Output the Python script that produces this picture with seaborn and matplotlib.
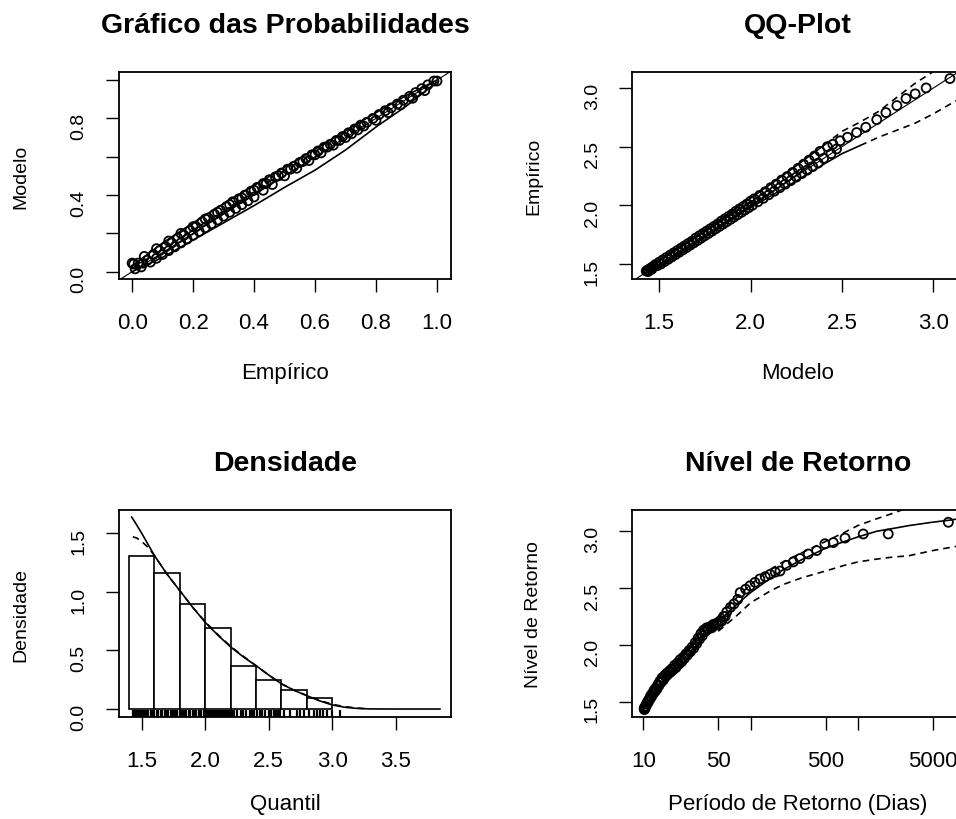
import matplotlib
matplotlib.use("Agg")
import matplotlib.pyplot as plt
import seaborn as sns

# ---------------- data: probability plot (Empírico vs Modelo) ----------------
pp_emp = [0.005, 0.02, 0.035, 0.05, 0.07, 0.09, 0.11, 0.13, 0.15, 0.17, 0.19, 0.21, 0.23,
          0.25, 0.27, 0.29, 0.31, 0.33, 0.35, 0.37, 0.39, 0.41, 0.43, 0.45, 0.47, 0.49,
          0.51, 0.53, 0.55, 0.57, 0.59, 0.61, 0.63, 0.65, 0.67, 0.69, 0.71, 0.73, 0.75,
          0.77, 0.79, 0.81, 0.83, 0.85, 0.87, 0.89, 0.91, 0.93, 0.95, 0.97, 0.99,
          0.01, 0.03, 0.06, 0.08, 0.10, 0.12, 0.14, 0.16, 0.18, 0.20, 0.22, 0.24, 0.26,
          0.28, 0.30, 0.32, 0.34, 0.36, 0.38, 0.40, 0.43, 0.46, 0.50, 0.54, 0.58, 0.62,
          0.66, 0.70, 0.74,
          0.0, 0.04, 0.08, 0.12, 0.16, 0.20, 0.24, 0.28, 0.32, 0.36, 0.40, 0.44, 0.48,
          0.52, 0.56, 0.60, 0.64, 0.68, 0.72, 0.76, 0.80, 0.84, 0.88, 0.92, 0.96, 1.0]
pp_mod = [0.040, 0.045, 0.045, 0.060, 0.090, 0.110, 0.130, 0.150, 0.175, 0.190, 0.215, 0.235,
          0.260, 0.280, 0.300, 0.320, 0.340, 0.365, 0.380, 0.400, 0.420, 0.440, 0.460, 0.480,
          0.495, 0.515, 0.535, 0.550, 0.570, 0.590, 0.610, 0.630, 0.650, 0.665, 0.685, 0.705,
          0.725, 0.745, 0.765, 0.780, 0.800, 0.820, 0.840, 0.855, 0.875, 0.895, 0.915, 0.935,
          0.955, 0.975, 0.995,
          0.015, 0.025, 0.050, 0.070, 0.090, 0.110, 0.130, 0.150, 0.170, 0.190, 0.210, 0.230,
          0.250, 0.270, 0.290, 0.310, 0.330, 0.350, 0.370, 0.390, 0.425, 0.455, 0.500, 0.540,
          0.580, 0.620, 0.660, 0.700, 0.740,
          0.045, 0.080, 0.120, 0.160, 0.200, 0.235, 0.275, 0.310, 0.350, 0.385, 0.425, 0.460,
          0.500, 0.535, 0.575, 0.610, 0.650, 0.685, 0.720, 0.760, 0.790, 0.830, 0.870, 0.905,
          0.945, 0.995]
pp_band_x = [0.0, 0.1, 0.2, 0.3, 0.4, 0.5, 0.6, 0.7, 0.8, 0.9, 1.0]
pp_band_lo = [0.0, 0.075, 0.165, 0.255, 0.345, 0.44, 0.53, 0.635, 0.755, 0.865, 0.99]
pp_band_hi = [0.03, 0.15, 0.255, 0.355, 0.45, 0.545, 0.64, 0.735, 0.83, 0.92, 1.0]

# ---------------- data: QQ-plot (Modelo vs Empírico) ----------------
qq_mod = [1.43, 1.435, 1.44, 1.45, 1.46, 1.47, 1.48, 1.50, 1.52, 1.54, 1.56, 1.58, 1.60, 1.62,
          1.64, 1.66, 1.68, 1.70, 1.72, 1.74, 1.76, 1.78, 1.80, 1.82, 1.84, 1.86, 1.88, 1.90,
          1.92, 1.94, 1.96, 1.98, 2.00, 2.02, 2.05, 2.08, 2.11, 2.14, 2.17, 2.20, 2.23, 2.26,
          2.29, 2.32, 2.35, 2.38, 2.42, 2.45, 2.49, 2.53, 2.58, 2.63, 2.69, 2.74, 2.80, 2.85,
          2.90, 2.96, 3.09,
          1.44, 1.46, 1.49, 1.51, 1.53, 1.55, 1.57, 1.59, 1.61, 1.63, 1.65, 1.67, 1.69, 1.71,
          1.73, 1.75, 1.77, 1.79, 1.81, 1.83, 1.85, 1.87, 1.89, 1.91, 1.93, 1.95, 1.97, 1.99,
          2.01, 2.04, 2.07, 2.10, 2.13, 2.16, 2.19, 2.22, 2.25, 2.28, 2.31, 2.34, 2.37, 2.40,
          2.44, 2.47]
qq_emp = [1.44, 1.445, 1.45, 1.46, 1.47, 1.48, 1.495, 1.515, 1.535, 1.555, 1.575, 1.595, 1.615,
          1.635, 1.655, 1.675, 1.695, 1.72, 1.74, 1.76, 1.78, 1.80, 1.82, 1.84, 1.865, 1.885,
          1.905, 1.925, 1.95, 1.97, 1.99, 2.01, 2.035, 2.055, 2.085, 2.115, 2.15, 2.18, 2.215,
          2.245, 2.28, 2.315, 2.35, 2.385, 2.42, 2.46, 2.50, 2.52, 2.55, 2.58, 2.62, 2.665,
          2.73, 2.79, 2.85, 2.91, 2.95, 3.00, 3.08,
          1.435, 1.455, 1.485, 1.50, 1.52, 1.54, 1.56, 1.58, 1.60, 1.62, 1.64, 1.66, 1.68,
          1.70, 1.72, 1.74, 1.76, 1.78, 1.80, 1.82, 1.84, 1.86, 1.88, 1.90, 1.92, 1.94, 1.96,
          1.98, 2.00, 2.03, 2.06, 2.09, 2.12, 2.15, 2.18, 2.21, 2.24, 2.27, 2.30, 2.33, 2.36,
          2.40, 2.44, 2.48]
qq_band_x = [1.43, 1.6, 1.8, 2.0, 2.2, 2.4, 2.5, 2.6, 2.7, 2.8, 2.9, 3.0, 3.1, 3.17]
qq_band_lo = [1.43, 1.59, 1.78, 1.98, 2.16, 2.35, 2.44, 2.51, 2.58, 2.64, 2.70, 2.78, 2.87, 2.93]
qq_band_hi = [1.45, 1.63, 1.84, 2.06, 2.28, 2.51, 2.63, 2.71, 2.80, 2.92, 3.04, 3.14, 3.22, 3.27]

# ---------------- data: density histogram ----------------
hist_edges = [1.4, 1.6, 1.8, 2.0, 2.2, 2.4, 2.6, 2.8, 3.0]
hist_heights = [1.31, 1.165, 0.90, 0.69, 0.37, 0.25, 0.16, 0.09]
dens_x = [1.42, 1.45, 1.5, 1.6, 1.7, 1.8, 1.9, 2.0, 2.1, 2.2, 2.3, 2.4, 2.5, 2.6, 2.7, 2.8,
          2.9, 3.0, 3.1, 3.2, 3.3, 3.5, 3.85]
dens_model = [1.64, 1.59, 1.50, 1.31, 1.15, 1.01, 0.87, 0.74, 0.63, 0.53, 0.445, 0.37, 0.29,
              0.215, 0.16, 0.114, 0.07, 0.035, 0.015, 0.005, 0.001, 0.0, 0.0]
kde_x = [1.43, 1.46, 1.50, 1.55, 1.60, 1.70, 1.80, 1.90, 2.00, 2.10, 2.20, 2.30, 2.40, 2.50,
         2.60, 2.70, 2.80, 2.90, 3.00, 3.10, 3.20, 3.25]
kde_y = [1.47, 1.46, 1.43, 1.38, 1.31, 1.15, 1.01, 0.87, 0.745, 0.635, 0.535, 0.45, 0.37,
         0.29, 0.215, 0.16, 0.115, 0.075, 0.04, 0.02, 0.008, 0.004]
rug_vals = [1.43, 1.44, 1.45, 1.46, 1.47, 1.49, 1.50, 1.52, 1.53, 1.55, 1.57, 1.58, 1.60,
            1.62, 1.63, 1.65, 1.66, 1.68, 1.70, 1.71, 1.73, 1.75, 1.76, 1.78, 1.80, 1.82,
            1.83, 1.85, 1.87, 1.88, 1.90, 1.92, 1.93, 1.95, 1.97, 1.99, 2.00, 2.01, 2.02,
            2.03, 2.04, 2.05, 2.06, 2.07, 2.08, 2.09, 2.10, 2.11, 2.12, 2.13, 2.14, 2.15,
            2.16, 2.17, 2.18, 2.19, 2.20, 2.21, 2.23, 2.25, 2.28, 2.30, 2.32, 2.35, 2.37,
            2.38, 2.41, 2.43, 2.45, 2.47, 2.50, 2.52, 2.54, 2.56, 2.57, 2.59, 2.62, 2.67,
            2.72, 2.75, 2.78, 2.82, 2.86, 2.88, 2.90, 2.93, 2.96, 3.00, 3.06]

# ---------------- data: return level plot ----------------
rl_per = [10.2, 10.3, 10.5, 10.7, 11.0, 11.3, 11.7, 12.1, 12.6, 13.1, 13.7, 14.3, 15.0, 15.8,
          16.6, 17.5, 18.5, 19.6, 20.8, 22.1, 23.5, 25.0, 26.7, 28.5, 30.5, 32.5, 34.5, 36.5,
          39, 42, 45, 48, 52, 56, 60, 65, 70, 76, 80, 90, 99, 110, 122, 137, 152, 170, 188,
          217, 250, 289, 345, 413, 493, 590, 759, 1122, 1919, 6970,
          10.25, 10.4, 10.6, 10.9, 11.2, 11.5, 11.9, 12.4, 12.9, 13.4, 14.0, 14.7, 15.4,
          16.2, 17.0, 18.0, 19.0, 20.2, 21.5, 22.8, 24.2, 25.8, 27.6, 29.5, 31.5, 33.5,
          35.5, 38, 40.5, 43.5, 46.5, 50, 54, 58]
rl_lev = [1.44, 1.45, 1.46, 1.48, 1.50, 1.52, 1.55, 1.57, 1.60, 1.62, 1.65, 1.68, 1.71, 1.73,
          1.75, 1.77, 1.79, 1.82, 1.84, 1.87, 1.89, 1.92, 1.95, 1.98, 2.02, 2.06, 2.10, 2.13,
          2.15, 2.16, 2.18, 2.19, 2.21, 2.25, 2.29, 2.33, 2.36, 2.40, 2.46, 2.49, 2.52, 2.55,
          2.58, 2.60, 2.62, 2.64, 2.65, 2.70, 2.73, 2.76, 2.80, 2.83, 2.89, 2.90, 2.94, 2.976,
          2.976, 3.079,
          1.43, 1.44, 1.46, 1.48, 1.50, 1.52, 1.54, 1.57, 1.59, 1.61, 1.64, 1.67, 1.69, 1.72,
          1.74, 1.76, 1.78, 1.80, 1.83, 1.85, 1.88, 1.91, 1.94, 1.97, 2.01, 2.05, 2.08, 2.12,
          2.14, 2.15, 2.17, 2.18, 2.21, 2.25]
rl_curve_x = [10, 15, 20, 30, 50, 75, 100, 150, 200, 300, 500, 750, 1000, 1500, 2000, 3000,
              5000, 7500, 10000]
rl_est = [1.44, 1.66, 1.80, 1.98, 2.20, 2.36, 2.46, 2.58, 2.66, 2.75, 2.85, 2.91, 2.95, 3.00,
          3.02, 3.05, 3.08, 3.10, 3.12]
rl_lo = [1.43, 1.64, 1.77, 1.94, 2.12, 2.26, 2.37, 2.47, 2.53, 2.59, 2.65, 2.70, 2.73, 2.755,
         2.77, 2.785, 2.83, 2.86, 2.88]
rl_hi = [1.44, 1.67, 1.82, 2.01, 2.25, 2.42, 2.53, 2.66, 2.73, 2.81, 2.91, 2.99, 3.05, 3.11,
         3.15, 3.21, 3.26, 3.29, 3.31]

# ---------------- figure ----------------
sns.set_style("ticks")
plt.rcParams['font.family'] = ['Liberation Sans', 'DejaVu Sans']
plt.rcParams['text.color'] = 'black'
plt.rcParams['axes.labelcolor'] = 'black'
plt.rcParams['xtick.color'] = 'black'
plt.rcParams['ytick.color'] = 'black'
plt.rcParams['axes.titlecolor'] = 'black'

W, H = 956, 820
fig = plt.figure(figsize=(W / 100, H / 100), dpi=100)


def add_ax(x0, y0, x1, y1):
    return fig.add_axes([x0 / W, 1 - y1 / H, (x1 - x0) / W, (y1 - y0) / H])


ax1 = add_ax(119, 73, 451, 280)
ax2 = add_ax(632, 73, 964, 280)
ax3 = add_ax(119, 511, 451, 718)
ax4 = add_ax(632, 511, 964, 718)

DASH = (0, (4, 3))
PT_KW = dict(marker='o', s=42, fc='none', ec='black', linewidth=1.3, legend=False, zorder=3)
LN_KW = dict(color='black', linewidth=1.2, estimator=None, sort=False, legend=False)


def style(ax, title, xlabel, ylabel, xlabelpad):
    for sp in ax.spines.values():
        sp.set_visible(True)
        sp.set_linewidth(1.3)
        sp.set_color('black')
    ax.set_title(title, fontsize=20.5, fontweight='bold', pad=29, color='black')
    ax.set_xlabel(xlabel, fontsize=16, labelpad=xlabelpad)
    ax.set_ylabel(ylabel, fontsize=14, labelpad=30)
    ax.tick_params(axis='x', labelsize=16, length=9.5, width=1, pad=14, direction='out')
    ax.tick_params(axis='y', labelsize=14, length=9.5, width=1, pad=13, direction='out',
                   labelrotation=90)
    ax.grid(False)


def split_band(ax, x, y, split):
    xs = [a for a in x if a <= split]
    ys = [b for a, b in zip(x, y) if a <= split]
    xd = [a for a in x if a >= split]
    yd = [b for a, b in zip(x, y) if a >= split]
    if len(xs) > 1:
        sns.lineplot(x=xs, y=ys, ax=ax, **LN_KW)
    if len(xd) > 1:
        sns.lineplot(x=xd, y=yd, ax=ax, linestyle=DASH, **LN_KW)


# --- Panel 1: probability plot
ax1.axline((0, 0), (1, 1), color='black', linewidth=0.8)
sns.lineplot(x=pp_band_x, y=pp_band_lo, ax=ax1, **LN_KW)
sns.lineplot(x=pp_band_x, y=pp_band_hi, ax=ax1, **LN_KW)
sns.scatterplot(x=pp_emp, y=pp_mod, ax=ax1, **PT_KW)
ax1.set_xlim(-0.043, 1.046)
ax1.set_ylim(-0.038, 1.042)
ax1.set_xticks([0.0, 0.2, 0.4, 0.6, 0.8, 1.0])
ax1.set_xticklabels(['0.0', '0.2', '0.4', '0.6', '0.8', '1.0'])
ax1.set_yticks([0.0, 0.2, 0.4, 0.6, 0.8, 1.0])
ax1.set_yticklabels(['0.0', '', '0.4', '', '0.8', ''])
style(ax1, 'Gráfico das Probabilidades', 'Empírico', 'Modelo', 21)

# --- Panel 2: QQ plot
ax2.axline((1.5, 1.5), (3.0, 3.0), color='black', linewidth=0.8)
split_band(ax2, qq_band_x, qq_band_lo, 2.6)
split_band(ax2, qq_band_x, qq_band_hi, 2.4)
sns.scatterplot(x=qq_mod, y=qq_emp, ax=ax2, **PT_KW)
ax2.set_xlim(1.352, 3.167)
ax2.set_ylim(1.372, 3.136)
ax2.set_xticks([1.5, 2.0, 2.5, 3.0])
ax2.set_xticklabels(['1.5', '2.0', '2.5', '3.0'])
ax2.set_yticks([1.5, 2.0, 2.5, 3.0])
ax2.set_yticklabels(['1.5', '2.0', '2.5', '3.0'])
style(ax2, 'QQ-Plot', 'Modelo', 'Empírico', 21)

# --- Panel 3: density
centers = [(a + b) / 2 for a, b in zip(hist_edges[:-1], hist_edges[1:])]
sns.histplot(x=centers, weights=hist_heights, bins=hist_edges, stat='count', ax=ax3,
             color='white', edgecolor='black', linewidth=1.2, alpha=1, zorder=1)
sns.rugplot(x=rug_vals, ax=ax3, height=0.036, color='black', linewidth=1.6, zorder=2)
sns.lineplot(x=dens_x, y=dens_model, ax=ax3, **LN_KW)
sns.lineplot(x=kde_x, y=kde_y, ax=ax3, linestyle=DASH, **LN_KW)
ax3.set_xlim(1.321, 3.935)
ax3.set_ylim(-0.068, 1.699)
ax3.set_xticks([1.5, 2.0, 2.5, 3.0, 3.5])
ax3.set_xticklabels(['1.5', '2.0', '2.5', '3.0', '3.5'])
ax3.set_yticks([0.0, 0.5, 1.0, 1.5])
ax3.set_yticklabels(['0.0', '0.5', '1.0', '1.5'])
style(ax3, 'Densidade', 'Quantil', 'Densidade', 16)

# --- Panel 4: return level
ax4.set_xscale('log')
sns.lineplot(x=rl_curve_x, y=rl_est, ax=ax4, **LN_KW)
split_band(ax4, rl_curve_x, rl_lo, 40)
split_band(ax4, rl_curve_x, rl_hi, 50)
sns.scatterplot(x=rl_per, y=rl_lev, ax=ax4, **PT_KW)
ax4.set_xlim(7.86, 9750)
ax4.set_ylim(1.365, 3.187)
ax4.set_xticks([10, 50, 100, 500, 1000, 5000])
ax4.set_xticklabels(['10', '50', '', '500', '', '5000'])
ax4.minorticks_off()
ax4.set_yticks([1.5, 2.0, 2.5, 3.0])
ax4.set_yticklabels(['1.5', '2.0', '2.5', '3.0'])
style(ax4, 'Nível de Retorno', 'Período de Retorno (Dias)', 'Nível de Retorno', 16)

fig.savefig('out.png', dpi=100)
